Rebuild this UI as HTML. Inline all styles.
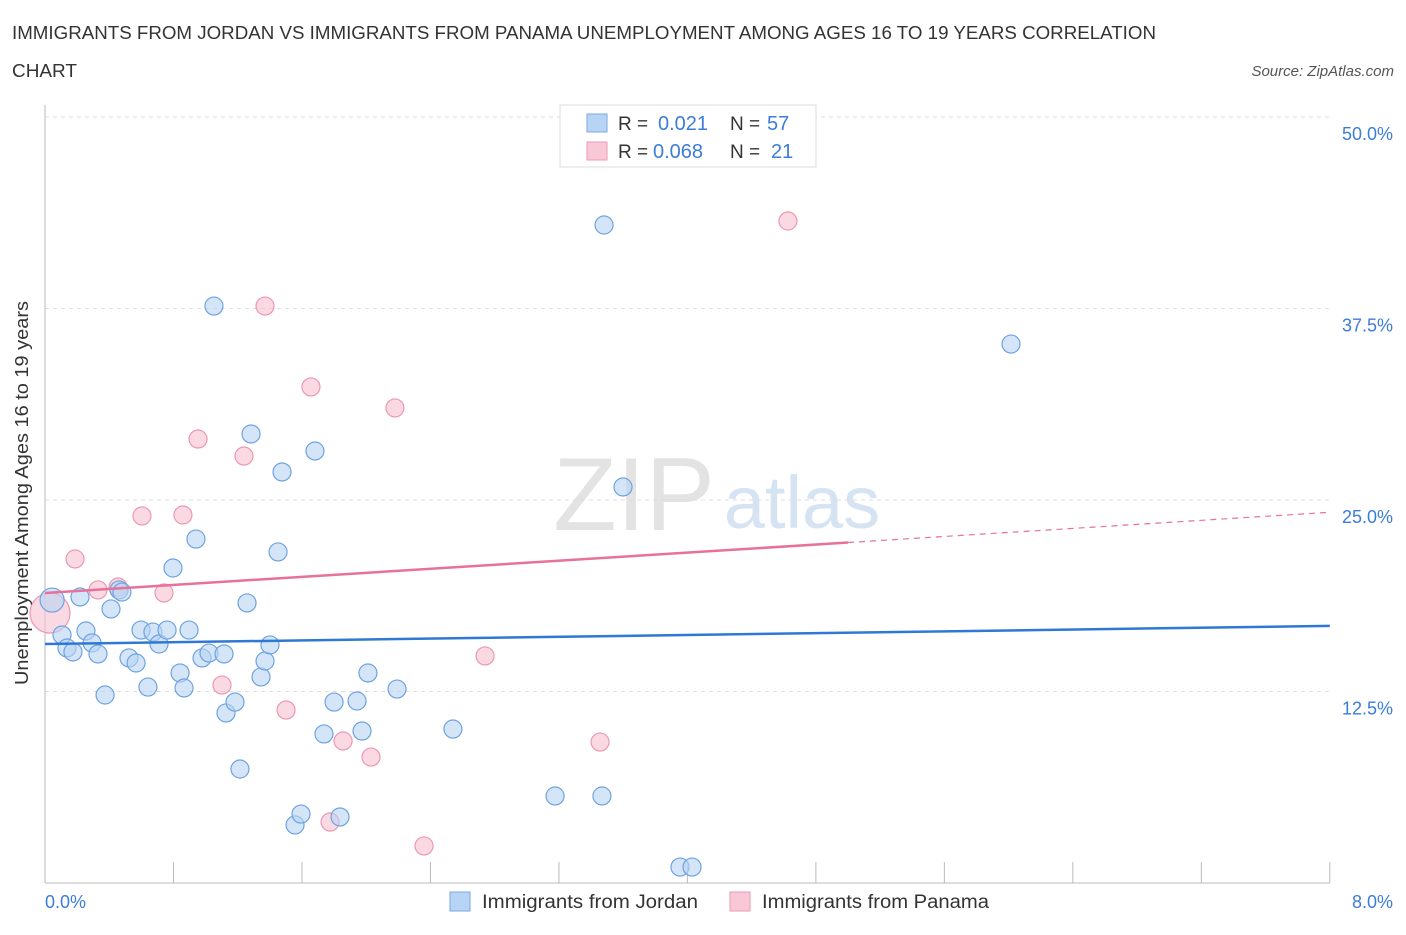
<!DOCTYPE html>
<html><head><meta charset="utf-8"><style>
body{margin:0;background:#fff;font-family:"Liberation Sans",sans-serif;}
svg text{font-family:"Liberation Sans",sans-serif;}
</style></head><body>
<svg id="chart" width="1406" height="930">
<text x="12" y="39" font-size="18" fill="#333" textLength="1144" lengthAdjust="spacingAndGlyphs">IMMIGRANTS FROM JORDAN VS IMMIGRANTS FROM PANAMA UNEMPLOYMENT AMONG AGES 16 TO 19 YEARS CORRELATION</text>
<text x="12" y="77" font-size="18" fill="#333" textLength="65" lengthAdjust="spacingAndGlyphs">CHART</text>
<text x="1394" y="76" font-size="15" fill="#555" font-style="italic" text-anchor="end">Source: ZipAtlas.com</text>
<text x="634" y="530" font-size="104" fill="#e3e3e3" font-family="Liberation Serif" text-anchor="middle">ZIP</text>
<text x="802" y="528" font-size="74" fill="#d5e3f3" text-anchor="middle">atlas</text>
<g id="grid"></g><g id="marks"></g>
<text x="28" y="493" font-size="18" fill="#333" text-anchor="middle" textLength="384" lengthAdjust="spacingAndGlyphs" transform="rotate(-90 28 493)">Unemployment Among Ages 16 to 19 years</text>
<text x="45" y="908" font-size="18" fill="#3b7dd8">0.0%</text>
<text x="1393" y="908" font-size="18" fill="#3b7dd8" text-anchor="end">8.0%</text>
<g>
<rect x="560" y="105" width="256" height="62" fill="#fff" stroke="#ddd"/>
<rect x="587" y="114" width="20" height="18" fill="#b8d4f4" stroke="#7aaae6"/>
<rect x="587" y="142" width="20" height="18" fill="#f9c8d6" stroke="#ee9ab4"/>
<text x="618" y="130" font-size="19" fill="#333">R =</text>
<text x="658" y="130" font-size="20" fill="#3b7dd8">0.021</text>
<text x="730" y="130" font-size="19" fill="#333">N =</text>
<text x="767" y="130" font-size="20" fill="#3b7dd8">57</text>
<text x="618" y="158" font-size="19" fill="#333">R =</text>
<text x="653" y="158" font-size="20" fill="#3b7dd8">0.068</text>
<text x="730" y="158" font-size="19" fill="#333">N =</text>
<text x="771" y="158" font-size="20" fill="#3b7dd8">21</text>
</g>
<g>
<rect x="450" y="892" width="20" height="19" fill="#b8d4f4" stroke="#7aaae6"/>
<text x="482" y="908" font-size="19" fill="#333" textLength="216" lengthAdjust="spacingAndGlyphs">Immigrants from Jordan</text>
<rect x="730" y="892" width="20" height="19" fill="#f9c8d6" stroke="#ee9ab4"/>
<text x="762" y="908" font-size="19" fill="#333" textLength="227" lengthAdjust="spacingAndGlyphs">Immigrants from Panama</text>
</g>
</svg>
<script>
const yTicks=[12.5,25,37.5,50];
const yTickLabels=["12.5%","25.0%","37.5%","50.0%"];
const xTicks=[0,0.8,1.6,2.4,3.2,4,4.8,5.6,6.4,7.2,8];
const jordanX=[0.044,0.106,0.137,0.174,0.218,0.255,0.293,0.330,0.374,0.411,0.461,0.479,0.523,0.567,0.598,0.641,0.672,0.710,0.760,0.797,0.841,0.866,0.897,0.940,0.978,1.021,1.052,1.115,1.127,1.183,1.214,1.258,1.283,1.345,1.370,1.401,1.451,1.476,1.557,1.594,1.681,1.737,1.800,1.837,1.943,1.974,2.011,2.192,2.540,3.176,3.468,3.481,3.599,3.954,4.029,6.015];
const jordanY=[18.47,16.19,15.34,15.08,18.67,16.45,15.67,14.95,12.27,17.89,19.13,18.99,14.69,14.36,16.51,12.79,16.38,15.60,16.51,20.56,13.71,12.73,16.51,22.45,14.69,15.01,37.66,14.95,11.10,11.81,7.44,18.28,29.31,13.45,14.49,15.54,21.61,26.83,3.79,4.50,28.20,9.73,11.81,4.31,11.88,9.92,13.71,12.66,10.05,5.68,5.68,42.95,25.85,1.04,1.04,35.18];
const panamaX=[0.031,0.187,0.330,0.455,0.604,0.741,0.859,0.953,1.102,1.239,1.370,1.501,1.656,1.775,1.856,2.030,2.179,2.360,2.740,3.456,4.626];
const panamaY=[17.62,21.15,19.13,19.32,23.96,18.93,24.02,28.98,12.92,27.87,37.66,11.29,32.38,3.98,9.27,8.22,31.01,2.42,14.82,9.20,43.21];
const jordanTrend=[15.60,16.78];
const panamaTrend=[18.93,24.2];
const NS="http://www.w3.org/2000/svg";
const X=v=>45+v*160.6, Y=v=>883-v*15.32;
function mk(t,a,p){const e=document.createElementNS(NS,t);for(const k in a)e.setAttribute(k,a[k]);p.appendChild(e);return e;}
const g=document.getElementById('grid'),m=document.getElementById('marks');
yTicks.forEach((t,i)=>{
 const l=mk('line',{x1:45,x2:1330,y1:Y(t),y2:Y(t),stroke:'#ddd','stroke-dasharray':'4,4'},g);
 
 
 const tx=mk('text',{x:1393,y:Y(t)+23,'font-size':18,fill:'#3b7dd8','text-anchor':'end'},g);
 tx.textContent=yTickLabels[i];
 
 
});
const ax=mk('line',{x1:45,x2:45,y1:105,y2:883,stroke:'#bbb'},g);


const bx=mk('line',{x1:45,x2:1330,y1:883,y2:883,stroke:'#bbb'},g);


xTicks.forEach(t=>{const l=mk('line',{x1:X(t),x2:X(t),y1:862,y2:883,stroke:'#bbb'},g);
 
 });
function pts(xs,ys,fill,stroke,name){xs.forEach((x,i)=>{
 const r=(i===0&&name==='panama-point')?20:(i===0?12:9);
 const c=mk('circle',{cx:X(x),cy:Y(ys[i]),r:r,fill:fill,'fill-opacity':0.6,stroke:stroke,'stroke-width':1.2},m);
 
 });}
pts(panamaX,panamaY,'#f7bfd0','#ec98b3','panama-point');
pts(jordanX,jordanY,'#b8d4f4','#6ea3e0','jordan-point');
let l=mk('line',{x1:X(0),y1:Y(jordanTrend[0]),x2:X(8),y2:Y(jordanTrend[1]),stroke:'#2f78d4','stroke-width':2.5},m);


const pAt=x=>panamaTrend[0]+(panamaTrend[1]-panamaTrend[0])*x/8;
l=mk('line',{x1:X(0),y1:Y(pAt(0)),x2:X(5),y2:Y(pAt(5)),stroke:'#e8719a','stroke-width':2.5},m);


l=mk('line',{x1:X(5),y1:Y(pAt(5)),x2:X(8),y2:Y(pAt(8)),stroke:'#e8719a','stroke-width':1.2,'stroke-dasharray':'6,5'},m);


</script>
</body></html>
